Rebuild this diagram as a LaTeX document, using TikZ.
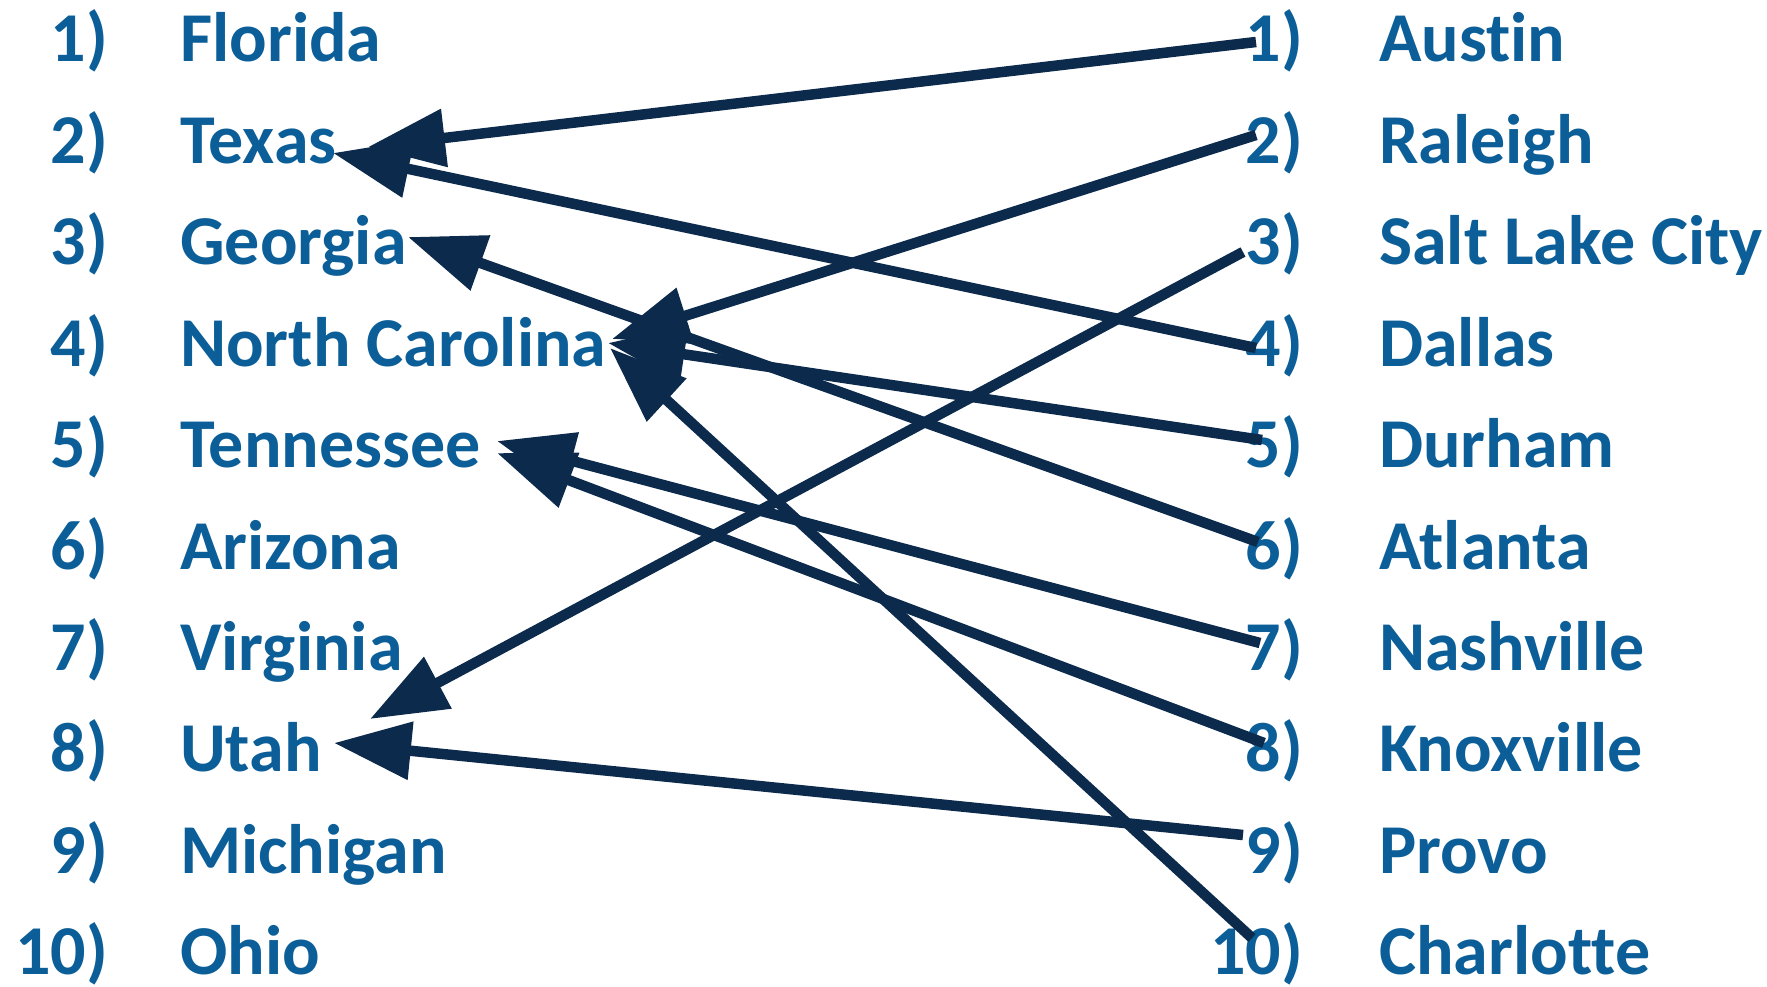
\documentclass[tikz,border=0pt]{standalone}
\usepackage{fontspec}
\setmainfont[Ligatures=NoCommon]{Carlito}
\usetikzlibrary{arrows.meta}
\definecolor{txtblue}{HTML}{0B5E97}
\definecolor{navy}{HTML}{0C2A4B}
\begin{document}
\begin{tikzpicture}[x=1pt,y=-1pt,
  lbltext/.style={inner sep=0pt, text=txtblue, font=\fontsize{70}{78}\selectfont\bfseries},
  numlbl/.style={lbltext, anchor=base east},
  namelbl/.style={lbltext, anchor=base west},
  link/.style={draw=navy, line width=10.5pt, -{Triangle[length=77pt,width=56pt]}}]
\useasboundingbox (0,0) rectangle (1767,987);
\foreach \i/\l/\r in {1/Florida/Austin, 2/Texas/Raleigh, 3/Georgia/Salt Lake City,
  4/North Carolina/Dallas, 5/Tennessee/Durham, 6/Arizona/Atlanta, 7/Virginia/Nashville,
  8/Utah/Knoxville, 9/Michigan/Provo, 10/Ohio/Charlotte}{
  \pgfmathsetmacro{\yy}{62+(\i-1)*101.4}
  \node[numlbl]  (LN\i) at (108,\yy)  {\i)};
  \node[namelbl] (L\i)  at (180,\yy)  {\l};
  \node[numlbl]  (RN\i) at (1303,\yy) {\i)};
  \node[namelbl] (R\i)  at (1379,\yy) {\r};
}
\coordinate (s1) at (1256,42);   \coordinate (t1) at (368,147);
\coordinate (s2) at (1256,135);  \coordinate (t2) at (612,339);
\coordinate (s3) at (1243,252);  \coordinate (t3) at (370,719);
\coordinate (s4) at (1256,348);  \coordinate (t4) at (333,153);
\coordinate (s5) at (1262,440);  \coordinate (t5) at (608,343);
\coordinate (s6) at (1258,542);  \coordinate (t6) at (408,237);
\coordinate (s7) at (1260,643);  \coordinate (t7) at (497,441);
\coordinate (s8) at (1264,743);  \coordinate (t8) at (497,453);
\coordinate (s9) at (1243,835);  \coordinate (t9) at (334,743);
\coordinate (s10) at (1252,938); \coordinate (t10) at (610,348);
\foreach \k in {1,...,10}{ \draw[link] (s\k) -- (t\k); }
\end{tikzpicture}
\end{document}
